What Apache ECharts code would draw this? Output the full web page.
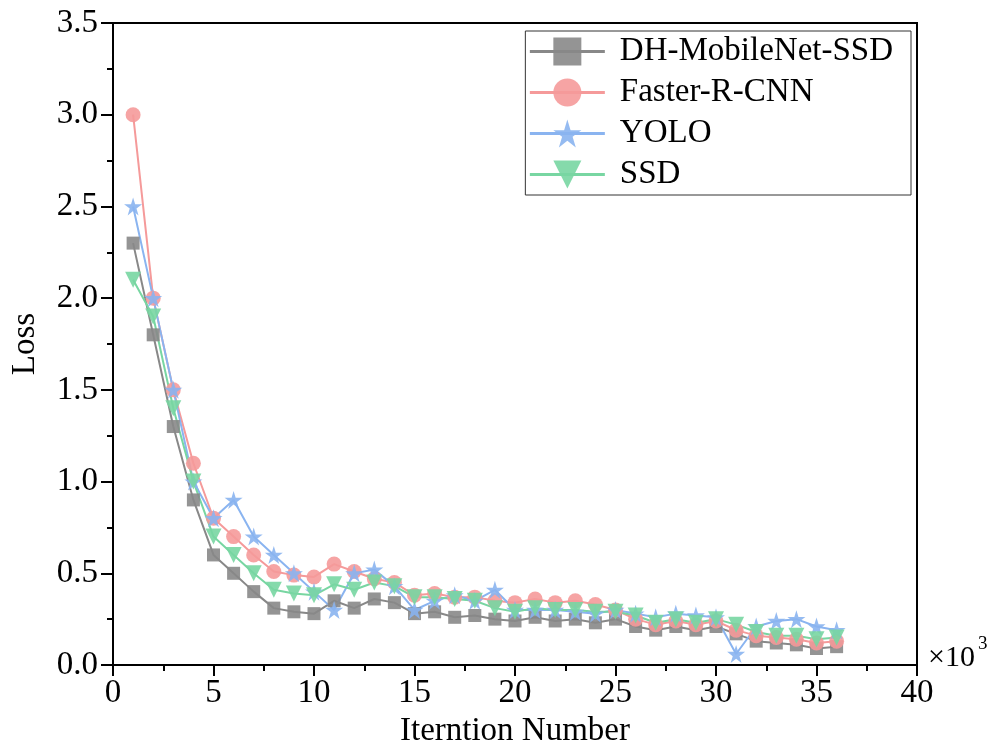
<!DOCTYPE html>
<html><head><meta charset="utf-8">
<script src="https://cdn.jsdelivr.net/npm/echarts@6/dist/echarts.min.js"></script>
<style>html,body{margin:0;padding:0;background:#fff}#c{width:993px;height:749px}</style>
</head><body><div id="c"></div>
<script>
const iterations = [1,2,3,4,5,6,7,8,9,10,11,12,13,14,15,16,17,18,19,20,21,22,23,24,25,26,27,28,29,30,31,32,33,34,35,36];
const dhMobileNetSSD = [2.3,1.8,1.3,0.9,0.6,0.5,0.4,0.31,0.29,0.28,0.35,0.31,0.36,0.34,0.28,0.29,0.26,0.27,0.25,0.24,0.26,0.24,0.25,0.23,0.25,0.21,0.19,0.21,0.19,0.21,0.17,0.13,0.12,0.11,0.09,0.1];
const fasterRCNN = [3.0,2.0,1.5,1.1,0.8,0.7,0.6,0.51,0.49,0.48,0.55,0.51,0.47,0.45,0.38,0.39,0.37,0.37,0.35,0.34,0.36,0.34,0.35,0.33,0.3,0.25,0.22,0.24,0.22,0.24,0.19,0.16,0.15,0.14,0.12,0.13];
const yolo = [2.5,2.0,1.5,1.0,0.8,0.9,0.7,0.6,0.5,0.4,0.3,0.5,0.52,0.43,0.3,0.35,0.38,0.35,0.41,0.3,0.3,0.3,0.29,0.28,0.3,0.28,0.26,0.28,0.27,0.26,0.06,0.21,0.24,0.25,0.21,0.19];
const ssd = [2.1,1.9,1.4,1.0,0.7,0.6,0.5,0.41,0.39,0.38,0.44,0.41,0.45,0.43,0.37,0.37,0.36,0.35,0.31,0.29,0.31,0.3,0.3,0.29,0.29,0.27,0.23,0.25,0.23,0.25,0.22,0.18,0.16,0.16,0.14,0.15];
const seriesNames = ['DH-MobileNet-SSD','Faster-R-CNN','YOLO','SSD'];

const font = 'Liberation Serif, Times New Roman, serif';
const chart = echarts.init(document.getElementById('c'));
function mk(name, data, color, symbol, size) {
  return {
    name, type: 'line', data: iterations.map((x,i)=>[x,data[i]]),
    symbol, symbolSize: size,
    lineStyle: {color, width: 2},
    itemStyle: {color, opacity: 0.9},
    emphasis: {disabled: true}
  };
}
chart.setOption({
  animation: false,
  textStyle: {fontFamily: font},
  grid: {left: 113, right: 76, top: 23, bottom: 84, outerBoundsMode: 'none', containLabel: false, show: true, borderColor: '#000', borderWidth: 2, backgroundColor: 'transparent'},
  legend: {
    right: 82, top: 31, orient: 'vertical',
    itemWidth: 75, itemHeight: 35, itemGap: 8,
    borderColor: '#333', borderWidth: 1, padding: [4, 18, 4, 3],
    lineStyle: {width: 3},
    textStyle: {fontFamily: font, fontSize: 33, color: '#000', padding: [0, 0, 0, 10]},
    data: seriesNames
  },
  xAxis: {
    type: 'value', min: 0, max: 40, interval: 5,
    name: 'Iterntion Number', nameLocation: 'middle', nameGap: 46,
    nameTextStyle: {fontFamily: font, fontSize: 33, color: '#000'},
    axisLine: {lineStyle: {color: '#000', width: 2}},
    axisTick: {show: true, length: 11, lineStyle: {color: '#000', width: 2}},
    minorTick: {show: true, splitNumber: 2, length: 6, lineStyle: {color: '#000', width: 2}},
    splitLine: {show: false},
    axisLabel: {fontFamily: font, fontSize: 33, color: '#000', margin: 12}
  },
  yAxis: {
    type: 'value', min: 0, max: 3.5, interval: 0.5,
    name: 'Loss', nameLocation: 'middle', nameGap: 71,
    nameTextStyle: {fontFamily: font, fontSize: 33, color: '#000'},
    axisLine: {show: true, lineStyle: {color: '#000', width: 2}},
    axisTick: {show: true, length: 12, lineStyle: {color: '#000', width: 2}},
    minorTick: {show: true, splitNumber: 2, length: 6, lineStyle: {color: '#000', width: 2}},
    splitLine: {show: false},
    axisLabel: {fontFamily: font, fontSize: 33, color: '#000', margin: 15, formatter: v => v.toFixed(1)}
  },
  graphic: [{
    type: 'text', left: 928, top: 643,
    style: {text: '×10', font: '30px ' + font, fill: '#000'}
  },{
    type: 'text', left: 978, top: 635,
    style: {text: '3', font: '19px ' + font, fill: '#000'}
  }],
  series: [
    mk(seriesNames[0], dhMobileNetSSD, '#888888', 'rect', 13),
    mk(seriesNames[1], fasterRCNN, '#f59a9a', 'circle', 15),
    mk(seriesNames[2], yolo, '#8ab4f0', 'path://M50,0 L61,35 L98,35 L68,57 L79,92 L50,70 L21,92 L32,57 L2,35 L39,35 Z', 18),
    mk(seriesNames[3], ssd, '#78d6a2', 'triangle', 16)
  ].map((s,i)=> i===3 ? Object.assign(s,{symbolRotate:180}) : s)
});
</script>
</body></html>
